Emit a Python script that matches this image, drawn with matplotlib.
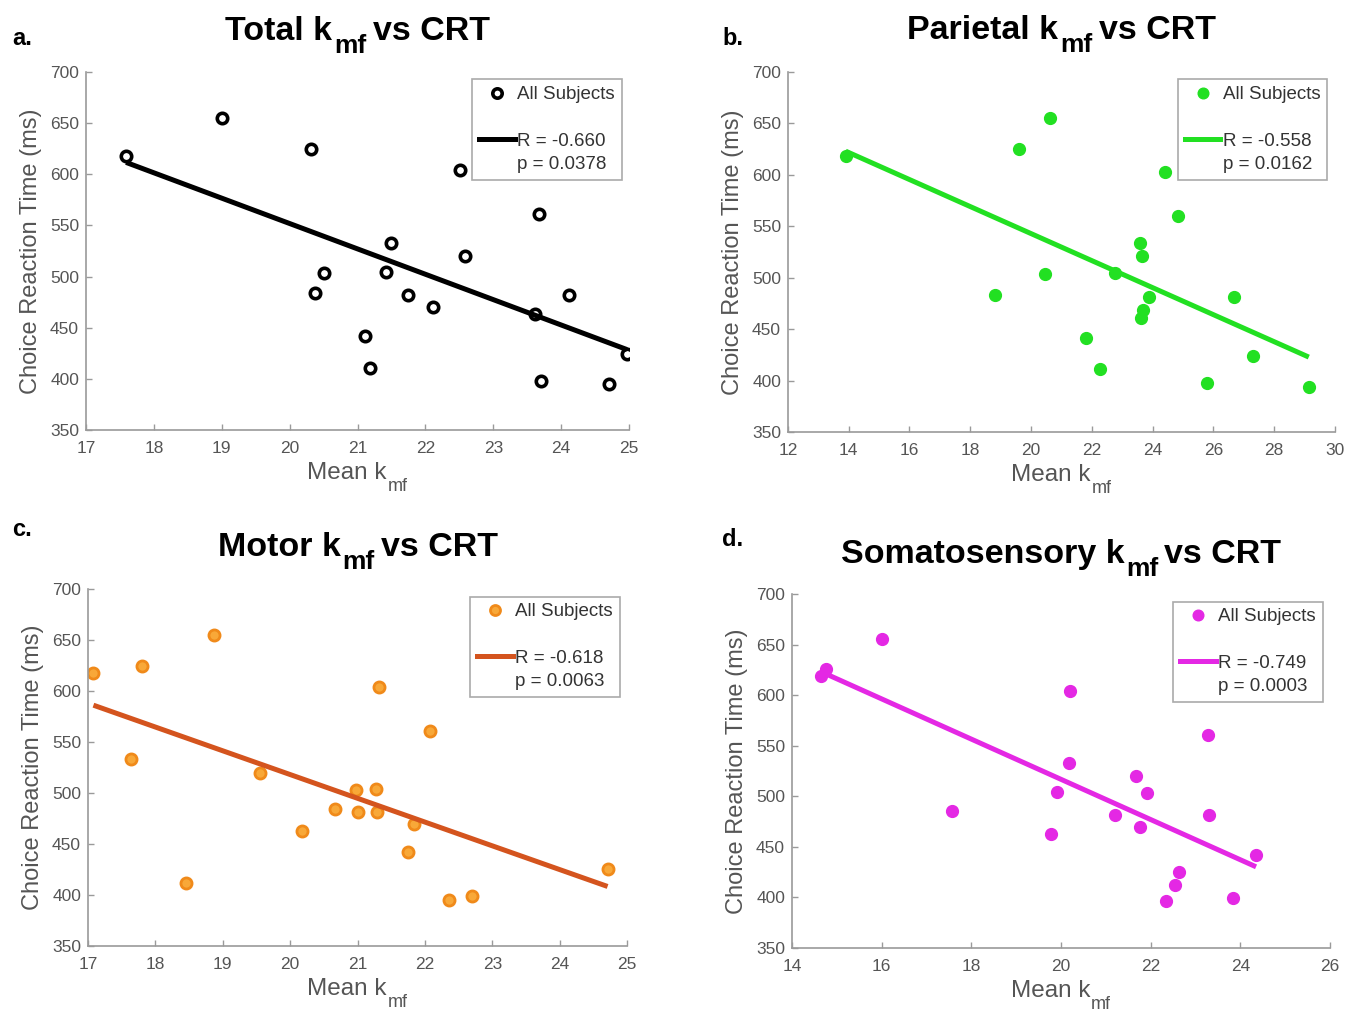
import numpy as np
import matplotlib
matplotlib.use("Agg")
import matplotlib.pyplot as plt
from matplotlib.lines import Line2D
from matplotlib.transforms import offset_copy

plt.rcParams['font.family'] = ['Liberation Sans', 'DejaVu Sans']
plt.rcParams['mathtext.default'] = 'regular'

# Valores (CRT en ms, k_mf medio)
total_k = [17.59, 19.01, 20.32, 22.51, 23.67, 21.49, 22.58, 20.51, 21.42, 20.38,
           21.74, 22.11, 24.11, 23.62, 21.11, 21.19, 24.97, 23.70, 24.71]
total_crt = [618, 655, 625, 604, 561, 533, 520, 503, 504, 484,
             482, 470, 482, 463, 442, 411, 424, 398, 395]

parietal_k = [13.90, 20.63, 19.59, 24.41, 24.84, 23.59, 23.66, 20.47, 22.77, 18.81,
              23.89, 26.69, 23.70, 23.61, 21.80, 22.27, 27.29, 25.80, 29.14]
parietal_crt = [618, 655, 625, 603, 560, 534, 521, 504, 505, 483,
                481, 481, 469, 461, 441, 411, 424, 398, 394]

motor_k = [17.08, 18.87, 17.80, 21.32, 22.08, 17.64, 19.55, 20.97, 21.27, 20.67,
           21.01, 21.29, 21.84, 20.17, 21.75, 18.45, 24.71, 22.35, 22.70]
motor_crt = [618, 655, 625, 604, 561, 533, 520, 503, 504, 484,
             481, 481, 470, 463, 442, 412, 425, 395, 399]

soma_k = [14.65, 14.75, 16.00, 20.21, 23.28, 20.18, 21.67, 19.92, 21.92, 17.57,
          21.20, 23.30, 21.77, 19.78, 24.35, 22.64, 22.54, 22.35, 23.84]
soma_crt = [619, 626, 656, 604, 561, 533, 520, 504, 503, 485,
            482, 482, 470, 463, 442, 425, 412, 396, 399]

titles = ["Total", "Parietal", "Motor", "Somatosensory"]
letters = ["a.", "b.", "c.", "d."]
r_vals = ["-0.660", "-0.558", "-0.618", "-0.749"]
p_vals = ["0.0378", "0.0162", "0.0063", "0.0003"]
xlims = [(17, 25), (12, 30), (17, 25), (14, 26)]
xsteps = [1, 2, 1, 2]

panels = [
    # datos, posición de ejes, estilo de marcador, color de línea
    (total_k, total_crt, [0.0631, 0.5747, 0.3984, 0.3541],
     dict(mfc='white', mec='black', mew=2.6, ms=7.5), 'black'),
    (parietal_k, parietal_crt, [0.5781, 0.5727, 0.4013, 0.3561],
     dict(mfc='#22e022', mec='#22e022', mew=1, ms=8.5), '#22e022'),
    (motor_k, motor_crt, [0.0646, 0.0643, 0.3955, 0.3531],
     dict(mfc='#f8a838', mec='#f08a1a', mew=2, ms=8), '#d4541e'),
    (soma_k, soma_crt, [0.5811, 0.0623, 0.3947, 0.3501],
     dict(mfc='#e428e4', mec='#e428e4', mew=1, ms=8.5), '#e428e4'),
]
letter_pos = [(0.009, 0.962), (0.530, 0.962), (0.009, 0.476), (0.530, 0.466)]
title_rise = [32, 33, 33, 31]   # px por encima del eje

fig = plt.figure(figsize=(13.63, 10.11), dpi=100)
renderer = fig.canvas.get_renderer()
gray = '#555555'


def rich_text(ax, parts, y_frac, base_px, **kw):
    # parts: (texto, tamaño, desplazamiento vertical px, hueco previo px)
    texts = [ax.text(0, 0, s, fontsize=sz, **kw) for s, sz, _, _ in parts]
    widths = [t.get_window_extent(renderer).width for t in texts]
    total = sum(widths) + sum(p[3] for p in parts)
    xpos = -total / 2
    for t, w, (_, _, shift, gap) in zip(texts, widths, parts):
        xpos += gap
        t.set_transform(offset_copy(ax.transAxes, fig=fig, x=xpos,
                                    y=base_px + shift, units='dots'))
        t.set_position((0.5, y_frac))
        t.set_ha('left')
        t.set_va('baseline')
        xpos += w


for i, (kx, crt, pos, mstyle, lcolor) in enumerate(panels):
    ax = fig.add_axes(pos)
    kx = np.array(kx)
    crt = np.array(crt)
    ax.plot(kx, crt, 'o', linestyle='none', **mstyle)
    slope, icpt = np.polyfit(kx, crt, 1)
    xs = np.array([kx.min(), kx.max()])
    ax.plot(xs, slope * xs + icpt, color=lcolor, lw=3.6, solid_capstyle='butt')

    ax.set_xlim(*xlims[i])
    ax.set_ylim(350, 700)
    ax.set_xticks(np.arange(xlims[i][0], xlims[i][1] + 0.01, xsteps[i]))
    ax.set_yticks(np.arange(350, 701, 50))
    for s in ['top', 'right']:
        ax.spines[s].set_visible(False)
    for s in ['left', 'bottom']:
        ax.spines[s].set_color('#9a9a9a')
        ax.spines[s].set_linewidth(1.2)
    ax.tick_params(direction='in', length=4, width=1, color='#9a9a9a',
                   labelcolor=gray, labelsize=12.5)
    ax.tick_params(axis='x', pad=8)
    ax.tick_params(axis='y', pad=5)
    ax.set_ylabel("Choice Reaction Time (ms)", fontsize=17, color=gray, labelpad=6)

    # eje x: "Mean k" con subíndice "mf"
    rich_text(ax, [("Mean k", 17.5, 0, 0), ("mf", 13, -12, 1)], 0.0, -49, color=gray)
    # título con subíndice
    rich_text(ax, [(titles[i] + " k", 24.5, 0, 0), ("mf", 19, -13, 2),
                   ("vs CRT", 24.5, 0, 6)],
              1.0, title_rise[i], fontweight='bold', color='black')

    handles = [
        Line2D([], [], marker='o', linestyle='none', **dict(mstyle, ms=mstyle['ms'] * 0.9)),
        Line2D([], [], linestyle='none'),
        Line2D([], [], color=lcolor, lw=3.6),
        Line2D([], [], linestyle='none'),
    ]
    labels = ["All Subjects", " ", "R = " + r_vals[i], "p = " + p_vals[i]]
    leg = ax.legend(handles, labels, loc='upper right', fontsize=13.5,
                    frameon=True, fancybox=False, framealpha=1, edgecolor='#aaaaaa',
                    handlelength=1.9, handletextpad=0.15, labelspacing=0.33,
                    borderpad=0.35, borderaxespad=0.4)
    leg.get_frame().set_linewidth(1.2)
    for t in leg.get_texts():
        t.set_color('#333333')

    fig.text(letter_pos[i][0], letter_pos[i][1], letters[i], fontsize=17,
             fontweight='bold', ha='left', va='center')

fig.savefig("out.png", dpi=100)
